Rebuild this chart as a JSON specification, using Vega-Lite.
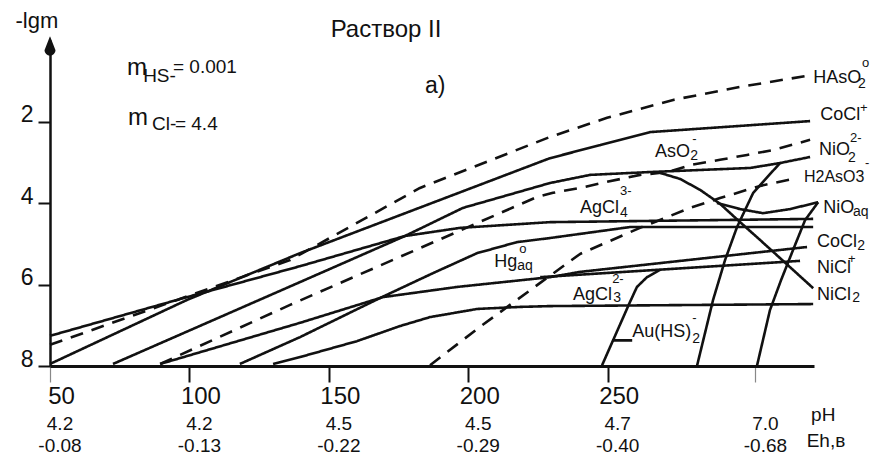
{
  "$schema": "https://vega.github.io/schema/vega-lite/v6.json",
  "width": 764,
  "height": 326,
  "autosize": {"type": "none"},
  "padding": {"left": 50, "top": 40, "right": 60, "bottom": 95},
  "background": "white",
  "config": {"view": {"stroke": null}, "font": "Liberation Sans"},
  "datasets": {
    "curves": [
      {"id": "CoCl+", "kind": "solid", "i": 0, "T": 50, "Y": 7.95},
      {"id": "CoCl+", "kind": "solid", "i": 1, "T": 99.1, "Y": 6.38},
      {"id": "CoCl+", "kind": "solid", "i": 2, "T": 139.7, "Y": 5.23},
      {"id": "CoCl+", "kind": "solid", "i": 3, "T": 229.3, "Y": 2.9},
      {"id": "CoCl+", "kind": "solid", "i": 4, "T": 247.3, "Y": 2.58},
      {"id": "CoCl+", "kind": "solid", "i": 5, "T": 265.2, "Y": 2.26},
      {"id": "CoCl+", "kind": "solid", "i": 6, "T": 322.6, "Y": 1.99},

      {"id": "AgCl4", "kind": "solid", "i": 0, "T": 50, "Y": 7.26},
      {"id": "AgCl4", "kind": "solid", "i": 1, "T": 99.1, "Y": 6.31},
      {"id": "AgCl4", "kind": "solid", "i": 2, "T": 139.7, "Y": 5.55},
      {"id": "AgCl4", "kind": "solid", "i": 3, "T": 177.3, "Y": 4.81},
      {"id": "AgCl4", "kind": "solid", "i": 4, "T": 197.1, "Y": 4.61},
      {"id": "AgCl4", "kind": "solid", "i": 5, "T": 229.3, "Y": 4.47},
      {"id": "AgCl4", "kind": "solid", "i": 6, "T": 323.7, "Y": 4.39},

      {"id": "AsO2", "kind": "solid", "i": 0, "T": 72.6, "Y": 7.95},
      {"id": "AsO2", "kind": "solid", "i": 1, "T": 139.7, "Y": 5.94},
      {"id": "AsO2", "kind": "solid", "i": 2, "T": 177.3, "Y": 4.81},
      {"id": "AsO2", "kind": "solid", "i": 3, "T": 198.1, "Y": 4.12},
      {"id": "AsO2", "kind": "solid", "i": 4, "T": 229.3, "Y": 3.51},
      {"id": "AsO2", "kind": "solid", "i": 5, "T": 243.7, "Y": 3.31},
      {"id": "AsO2", "kind": "solid", "i": 6, "T": 265.2, "Y": 3.24},
      {"id": "AsO2", "kind": "solid", "i": 7, "T": 301.1, "Y": 3.14},
      {"id": "AsO2", "kind": "solid", "i": 8, "T": 311.8, "Y": 3.02},
      {"id": "AsO2", "kind": "solid", "i": 9, "T": 322.6, "Y": 2.87},

      {"id": "NiCl2", "kind": "solid", "i": 0, "T": 268.8, "Y": 3.26},
      {"id": "NiCl2", "kind": "solid", "i": 1, "T": 276.0, "Y": 3.41},
      {"id": "NiCl2", "kind": "solid", "i": 2, "T": 283.2, "Y": 3.68},
      {"id": "NiCl2", "kind": "solid", "i": 3, "T": 290.3, "Y": 4.02},
      {"id": "NiCl2", "kind": "solid", "i": 4, "T": 297.5, "Y": 4.47},
      {"id": "NiCl2", "kind": "solid", "i": 5, "T": 304.7, "Y": 4.91},
      {"id": "NiCl2", "kind": "solid", "i": 6, "T": 311.8, "Y": 5.35},
      {"id": "NiCl2", "kind": "solid", "i": 7, "T": 323.7, "Y": 6.09},

      {"id": "NiOaq", "kind": "solid", "i": 0, "T": 289.2, "Y": 4.0},
      {"id": "NiOaq", "kind": "solid", "i": 1, "T": 297.5, "Y": 4.15},
      {"id": "NiOaq", "kind": "solid", "i": 2, "T": 305.7, "Y": 4.25},
      {"id": "NiOaq", "kind": "solid", "i": 3, "T": 315.4, "Y": 4.15},
      {"id": "NiOaq", "kind": "solid", "i": 4, "T": 325.5, "Y": 3.98},

      {"id": "NiOaq-edge", "kind": "solid", "i": 0, "T": 325.5, "Y": 3.98},
      {"id": "NiOaq-edge", "kind": "solid", "i": 1, "T": 320.8, "Y": 4.42},
      {"id": "NiOaq-edge", "kind": "solid", "i": 2, "T": 316.5, "Y": 5.15},
      {"id": "NiOaq-edge", "kind": "solid", "i": 3, "T": 312.2, "Y": 5.89},
      {"id": "NiOaq-edge", "kind": "solid", "i": 4, "T": 308.2, "Y": 6.63},
      {"id": "NiOaq-edge", "kind": "solid", "i": 5, "T": 303.6, "Y": 7.98},

      {"id": "AsO2-edge", "kind": "solid", "i": 0, "T": 311.8, "Y": 3.02},
      {"id": "AsO2-edge", "kind": "solid", "i": 1, "T": 302.2, "Y": 3.75},
      {"id": "AsO2-edge", "kind": "solid", "i": 2, "T": 296.4, "Y": 4.59},
      {"id": "AsO2-edge", "kind": "solid", "i": 3, "T": 292.1, "Y": 5.4},
      {"id": "AsO2-edge", "kind": "solid", "i": 4, "T": 287.8, "Y": 6.38},
      {"id": "AsO2-edge", "kind": "solid", "i": 5, "T": 282.1, "Y": 7.98},

      {"id": "Au(HS)2", "kind": "solid", "i": 0, "T": 248.0, "Y": 7.98},
      {"id": "Au(HS)2", "kind": "solid", "i": 1, "T": 258.0, "Y": 6.43},
      {"id": "Au(HS)2", "kind": "solid", "i": 2, "T": 260.5, "Y": 6.06},
      {"id": "Au(HS)2", "kind": "solid", "i": 3, "T": 264.1, "Y": 5.82},
      {"id": "Au(HS)2", "kind": "solid", "i": 4, "T": 268.8, "Y": 5.64},

      {"id": "Au-leader", "kind": "solid", "i": 0, "T": 251.6, "Y": 7.37},
      {"id": "Au-leader", "kind": "solid", "i": 1, "T": 258.8, "Y": 7.37},

      {"id": "CoCl2", "kind": "solid", "i": 0, "T": 89.5, "Y": 7.95},
      {"id": "CoCl2", "kind": "solid", "i": 1, "T": 139.7, "Y": 6.94},
      {"id": "CoCl2", "kind": "solid", "i": 2, "T": 169.4, "Y": 6.31},
      {"id": "CoCl2", "kind": "solid", "i": 3, "T": 196.0, "Y": 6.06},
      {"id": "CoCl2", "kind": "solid", "i": 4, "T": 229.3, "Y": 5.82},
      {"id": "CoCl2", "kind": "solid", "i": 5, "T": 240.1, "Y": 5.69},
      {"id": "CoCl2", "kind": "solid", "i": 6, "T": 321.5, "Y": 5.08},

      {"id": "NiCl+", "kind": "solid", "i": 0, "T": 225.8, "Y": 5.82},
      {"id": "NiCl+", "kind": "solid", "i": 1, "T": 319.0, "Y": 5.42},

      {"id": "Hg", "kind": "solid", "i": 0, "T": 118.1, "Y": 7.95},
      {"id": "Hg", "kind": "solid", "i": 1, "T": 139.7, "Y": 7.29},
      {"id": "Hg", "kind": "solid", "i": 2, "T": 168.4, "Y": 6.33},
      {"id": "Hg", "kind": "solid", "i": 3, "T": 187.4, "Y": 5.72},
      {"id": "Hg", "kind": "solid", "i": 4, "T": 203.2, "Y": 5.23},
      {"id": "Hg", "kind": "solid", "i": 5, "T": 217.5, "Y": 4.96},
      {"id": "Hg", "kind": "solid", "i": 6, "T": 229.3, "Y": 4.86},
      {"id": "Hg", "kind": "solid", "i": 7, "T": 258.0, "Y": 4.59},
      {"id": "Hg", "kind": "solid", "i": 8, "T": 323.7, "Y": 4.59},

      {"id": "AgCl3", "kind": "solid", "i": 0, "T": 130.0, "Y": 7.95},
      {"id": "AgCl3", "kind": "solid", "i": 1, "T": 139.7, "Y": 7.78},
      {"id": "AgCl3", "kind": "solid", "i": 2, "T": 160.1, "Y": 7.39},
      {"id": "AgCl3", "kind": "solid", "i": 3, "T": 175.5, "Y": 7.02},
      {"id": "AgCl3", "kind": "solid", "i": 4, "T": 186.3, "Y": 6.8},
      {"id": "AgCl3", "kind": "solid", "i": 5, "T": 203.2, "Y": 6.6},
      {"id": "AgCl3", "kind": "solid", "i": 6, "T": 218.6, "Y": 6.55},
      {"id": "AgCl3", "kind": "solid", "i": 7, "T": 229.3, "Y": 6.53},
      {"id": "AgCl3", "kind": "solid", "i": 8, "T": 323.7, "Y": 6.48},

      {"id": "HAsO2", "kind": "dashed", "i": 0, "T": 50, "Y": 7.48},
      {"id": "HAsO2", "kind": "dashed", "i": 1, "T": 136.1, "Y": 5.4},
      {"id": "HAsO2", "kind": "dashed", "i": 2, "T": 182.7, "Y": 3.63},
      {"id": "HAsO2", "kind": "dashed", "i": 3, "T": 229.3, "Y": 2.38},
      {"id": "HAsO2", "kind": "dashed", "i": 4, "T": 249.8, "Y": 1.91},
      {"id": "HAsO2", "kind": "dashed", "i": 5, "T": 273.5, "Y": 1.47},
      {"id": "HAsO2", "kind": "dashed", "i": 6, "T": 297.5, "Y": 1.15},
      {"id": "HAsO2", "kind": "dashed", "i": 7, "T": 321.5, "Y": 0.88},

      {"id": "NiO2", "kind": "dashed", "i": 0, "T": 89.5, "Y": 7.95},
      {"id": "NiO2", "kind": "dashed", "i": 1, "T": 136.1, "Y": 6.5},
      {"id": "NiO2", "kind": "dashed", "i": 2, "T": 224.7, "Y": 3.85},
      {"id": "NiO2", "kind": "dashed", "i": 3, "T": 230.4, "Y": 3.75},
      {"id": "NiO2", "kind": "dashed", "i": 4, "T": 240.1, "Y": 3.63},
      {"id": "NiO2", "kind": "dashed", "i": 5, "T": 249.8, "Y": 3.48},
      {"id": "NiO2", "kind": "dashed", "i": 6, "T": 261.6, "Y": 3.31},
      {"id": "NiO2", "kind": "dashed", "i": 7, "T": 271.7, "Y": 3.24},
      {"id": "NiO2", "kind": "dashed", "i": 8, "T": 279.6, "Y": 3.07},
      {"id": "NiO2", "kind": "dashed", "i": 9, "T": 290.3, "Y": 2.94},
      {"id": "NiO2", "kind": "dashed", "i": 10, "T": 300.0, "Y": 2.82},
      {"id": "NiO2", "kind": "dashed", "i": 11, "T": 309.3, "Y": 2.7},
      {"id": "NiO2", "kind": "dashed", "i": 12, "T": 322.6, "Y": 2.45},

      {"id": "H2AsO3", "kind": "dashed", "i": 0, "T": 186.3, "Y": 7.98},
      {"id": "H2AsO3", "kind": "dashed", "i": 1, "T": 204.2, "Y": 7.04},
      {"id": "H2AsO3", "kind": "dashed", "i": 2, "T": 225.8, "Y": 5.96},
      {"id": "H2AsO3", "kind": "dashed", "i": 3, "T": 240.1, "Y": 5.25},
      {"id": "H2AsO3", "kind": "dashed", "i": 4, "T": 261.6, "Y": 4.61},
      {"id": "H2AsO3", "kind": "dashed", "i": 5, "T": 279.6, "Y": 4.12},
      {"id": "H2AsO3", "kind": "dashed", "i": 6, "T": 290.3, "Y": 3.88},
      {"id": "H2AsO3", "kind": "dashed", "i": 7, "T": 304.7, "Y": 3.58},
      {"id": "H2AsO3", "kind": "dashed", "i": 8, "T": 317.9, "Y": 3.39}
    ],
    "labels": [
      {"role": "main", "text": "HAsO", "T": 323.7, "Y": 1.06},
      {"role": "main", "text": "CoCl", "T": 326.2, "Y": 1.96},
      {"role": "main", "text": "NiO", "T": 325.8, "Y": 2.82},
      {"role": "narrow", "text": "H2AsO3", "T": 320.4, "Y": 3.48},
      {"role": "main", "text": "NiO", "T": 327.3, "Y": 4.25},
      {"role": "main", "text": "CoCl", "T": 325.1, "Y": 5.08},
      {"role": "main", "text": "NiCl", "T": 325.1, "Y": 5.72},
      {"role": "main", "text": "NiCl", "T": 325.1, "Y": 6.38},
      {"role": "main", "text": "AgCl", "T": 237.6, "Y": 6.38},
      {"role": "main", "text": "Au(HS)", "T": 258.8, "Y": 7.29},
      {"role": "main", "text": "Hg", "T": 209.3, "Y": 5.57},
      {"role": "main", "text": "AgCl", "T": 240.1, "Y": 4.25},
      {"role": "main", "text": "AsO", "T": 267.0, "Y": 2.87},
      {"role": "sub", "text": "2", "T": 339.8, "Y": 1.18},
      {"role": "sub", "text": "2", "T": 336.2, "Y": 2.99},
      {"role": "sub", "text": "aq", "T": 338.0, "Y": 4.32},
      {"role": "sub", "text": "2", "T": 339.5, "Y": 5.15},
      {"role": "sub", "text": "2", "T": 337.7, "Y": 6.43},
      {"role": "sub", "text": "3", "T": 252.0, "Y": 6.43},
      {"role": "sub", "text": "2", "T": 280.3, "Y": 7.44},
      {"role": "sub", "text": "aq", "T": 217.6, "Y": 5.64},
      {"role": "sub", "text": "4", "T": 254.4, "Y": 4.34},
      {"role": "sub", "text": "2", "T": 279.6, "Y": 2.94},
      {"role": "sup", "text": "o", "T": 341.2, "Y": 0.66},
      {"role": "sup", "text": "+", "T": 340.5, "Y": 1.77},
      {"role": "sup", "text": "2-", "T": 336.9, "Y": 2.5},
      {"role": "sup", "text": "-", "T": 342.3, "Y": 3.12},
      {"role": "sup", "text": "+", "T": 336.2, "Y": 5.47},
      {"role": "sup", "text": "2-", "T": 251.6, "Y": 5.96},
      {"role": "sup", "text": "-", "T": 280.3, "Y": 6.92},
      {"role": "sup", "text": "o", "T": 218.3, "Y": 5.23},
      {"role": "sup", "text": "3-", "T": 254.4, "Y": 3.8},
      {"role": "sup", "text": "-", "T": 280.3, "Y": 2.53},
      {"role": "m", "text": "m", "T": 77.6, "Y": 0.86},
      {"role": "m", "text": "m", "T": 78.0, "Y": 2.09},
      {"role": "note", "text": "HS-", "T": 83.4, "Y": 1.03},
      {"role": "note", "text": "= 0.001", "T": 94.1, "Y": 0.81},
      {"role": "note", "text": "Cl-", "T": 86.6, "Y": 2.21},
      {"role": "note", "text": "= 4.4", "T": 94.8, "Y": 2.21}
    ],
    "conditions": [
      {"T": 50, "pH": "4.2", "Eh": "-0.08"},
      {"T": 100, "pH": "4.2", "Eh": "-0.13"},
      {"T": 150, "pH": "4.5", "Eh": "-0.22"},
      {"T": 200, "pH": "4.5", "Eh": "-0.29"},
      {"T": 250, "pH": "4.7", "Eh": "-0.40"},
      {"T": 303, "pH": "7.0", "Eh": "-0.68"}
    ],
    "axisArrow": [
      {"part": "tip", "i": 0, "T": 50, "Y": -0.08},
      {"part": "base", "i": 1, "T": 50, "Y": 0.25}
    ]
  },
  "layer": [
    {
      "data": {"name": "curves"},
      "mark": {"type": "line", "color": "#111", "strokeWidth": 2.6, "strokeJoin": "round"},
      "encoding": {
        "x": {
          "field": "T",
          "type": "quantitative",
          "scale": {"domain": [50, 324], "nice": false, "zero": false},
          "axis": {
            "values": [50, 100, 150, 200, 250, 303],
            "title": null,
            "grid": false,
            "format": "d",
            "domainColor": "#111",
            "domainWidth": 3,
            "tickSize": 16,
            "tickColor": {"condition": {"test": "datum.value == 50 || datum.value == 303", "value": "#888"}, "value": "#111"},
            "tickWidth": {"condition": {"test": "datum.value == 50 || datum.value == 303", "value": 1.2}, "value": 2},
            "labelExpr": "datum.value == 303 ? '' : datum.label",
            "labelFont": "Liberation Sans",
            "labelFontSize": 24,
            "labelColor": "#111",
            "labelPadding": 2,
            "labelOffset": 11,
            "labelFlush": false,
            "labelOverlap": false,
            "labelBound": false
          }
        },
        "y": {
          "field": "Y",
          "type": "quantitative",
          "scale": {"domain": [0, 8], "reverse": true, "nice": false, "zero": false},
          "axis": {
            "values": [2, 4, 6, 8],
            "title": "-lgm",
            "titleAngle": 0,
            "titleAlign": "left",
            "titleBaseline": "alphabetic",
            "titleX": -35,
            "titleY": -13,
            "titleFont": "Liberation Sans",
            "titleFontSize": 22,
            "titleFontWeight": "normal",
            "titleColor": "#111",
            "grid": false,
            "domainColor": "#111",
            "domainWidth": 2.5,
            "tickSize": 12,
            "tickWidth": 2,
            "tickColor": "#111",
            "labelFont": "Liberation Sans",
            "labelFontSize": 23,
            "labelColor": "#111",
            "labelBaseline": "alphabetic",
            "labelPadding": 5
          }
        },
        "detail": {"field": "id"},
        "order": {"field": "i"},
        "strokeDash": {
          "field": "kind",
          "type": "nominal",
          "scale": {"domain": ["solid", "dashed"], "range": [[1, 0], [13, 9]]},
          "legend": null
        }
      }
    },
    {
      "data": {"name": "axisArrow"},
      "mark": {"type": "trail", "color": "#111"},
      "encoding": {
        "x": {"field": "T", "type": "quantitative"},
        "y": {"field": "Y", "type": "quantitative"},
        "order": {"field": "i"},
        "size": {
          "field": "part",
          "type": "nominal",
          "scale": {"domain": ["tip", "base"], "range": [0.5, 11]},
          "legend": null
        }
      }
    },
    {
      "data": {"name": "labels"},
      "transform": [{"filter": "datum.role == 'main'"}],
      "mark": {"type": "text", "align": "left", "baseline": "alphabetic", "fontSize": 18, "color": "#111"},
      "encoding": {
        "x": {"field": "T", "type": "quantitative"},
        "y": {"field": "Y", "type": "quantitative"},
        "text": {"field": "text"}
      }
    },
    {
      "data": {"name": "labels"},
      "transform": [{"filter": "datum.role == 'narrow'"}],
      "mark": {"type": "text", "align": "left", "baseline": "alphabetic", "fontSize": 16, "color": "#111"},
      "encoding": {
        "x": {"field": "T", "type": "quantitative"},
        "y": {"field": "Y", "type": "quantitative"},
        "text": {"field": "text"}
      }
    },
    {
      "data": {"name": "labels"},
      "transform": [{"filter": "datum.role == 'sub'"}],
      "mark": {"type": "text", "align": "left", "baseline": "alphabetic", "fontSize": 14, "color": "#111"},
      "encoding": {
        "x": {"field": "T", "type": "quantitative"},
        "y": {"field": "Y", "type": "quantitative"},
        "text": {"field": "text"}
      }
    },
    {
      "data": {"name": "labels"},
      "transform": [{"filter": "datum.role == 'sup'"}],
      "mark": {"type": "text", "align": "left", "baseline": "alphabetic", "fontSize": 13, "color": "#111"},
      "encoding": {
        "x": {"field": "T", "type": "quantitative"},
        "y": {"field": "Y", "type": "quantitative"},
        "text": {"field": "text"}
      }
    },
    {
      "data": {"name": "labels"},
      "transform": [{"filter": "datum.role == 'm'"}],
      "mark": {"type": "text", "align": "left", "baseline": "alphabetic", "fontSize": 24, "color": "#111"},
      "encoding": {
        "x": {"field": "T", "type": "quantitative"},
        "y": {"field": "Y", "type": "quantitative"},
        "text": {"field": "text"}
      }
    },
    {
      "data": {"name": "labels"},
      "transform": [{"filter": "datum.role == 'note'"}],
      "mark": {"type": "text", "align": "left", "baseline": "alphabetic", "fontSize": 19, "color": "#111"},
      "encoding": {
        "x": {"field": "T", "type": "quantitative"},
        "y": {"field": "Y", "type": "quantitative"},
        "text": {"field": "text"}
      }
    },
    {
      "data": {"values": [{"caption": "Раствор II"}]},
      "mark": {"type": "text", "align": "center", "baseline": "alphabetic", "fontSize": 24, "color": "#111"},
      "encoding": {
        "x": {"datum": 170.5, "type": "quantitative"},
        "y": {"datum": -0.07, "type": "quantitative"},
        "text": {"field": "caption"}
      }
    },
    {
      "data": {"values": [{"caption": "a)"}]},
      "mark": {"type": "text", "align": "left", "baseline": "alphabetic", "fontSize": 23, "color": "#111"},
      "encoding": {
        "x": {"datum": 184.5, "type": "quantitative"},
        "y": {"datum": 1.3, "type": "quantitative"},
        "text": {"field": "caption"}
      }
    },
    {
      "data": {"name": "conditions"},
      "mark": {"type": "text", "align": "center", "baseline": "middle", "dx": 10, "fontSize": 19, "color": "#111"},
      "encoding": {
        "x": {"field": "T", "type": "quantitative"},
        "y": {"datum": 9.42, "type": "quantitative"},
        "text": {"field": "pH"}
      }
    },
    {
      "data": {"name": "conditions"},
      "mark": {"type": "text", "align": "center", "baseline": "middle", "dx": 10, "fontSize": 19, "color": "#111"},
      "encoding": {
        "x": {"field": "T", "type": "quantitative"},
        "y": {"datum": 9.96, "type": "quantitative"},
        "text": {"field": "Eh"}
      }
    },
    {
      "data": {"values": [{"caption": "pH"}]},
      "mark": {"type": "text", "align": "center", "baseline": "middle", "fontSize": 19, "color": "#111"},
      "encoding": {
        "x": {"datum": 327.3, "type": "quantitative"},
        "y": {"datum": 9.2, "type": "quantitative"},
        "text": {"field": "caption"}
      }
    },
    {
      "data": {"values": [{"caption": "Eh,в"}]},
      "mark": {"type": "text", "align": "center", "baseline": "middle", "fontSize": 19, "color": "#111"},
      "encoding": {
        "x": {"datum": 328.3, "type": "quantitative"},
        "y": {"datum": 9.84, "type": "quantitative"},
        "text": {"field": "caption"}
      }
    }
  ]
}
